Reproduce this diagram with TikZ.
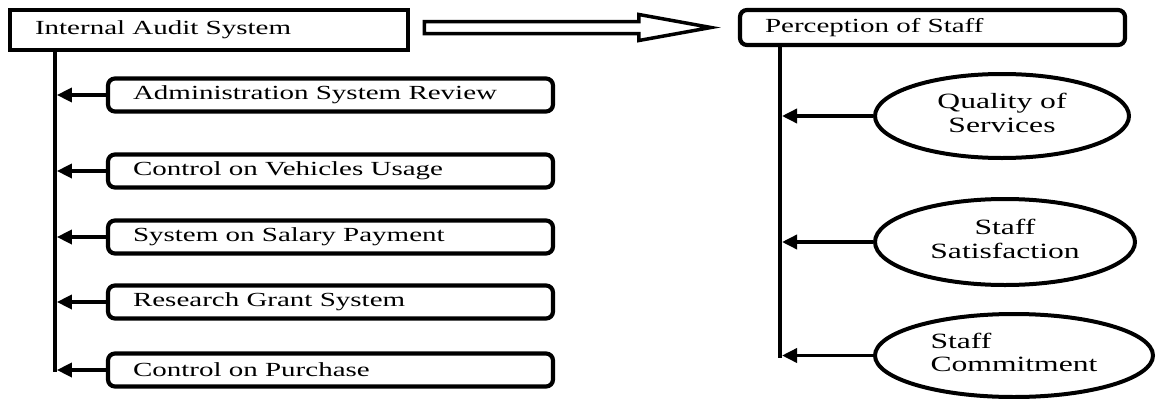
\documentclass[tikz,border=0pt]{standalone}
\usepackage{fontspec}
\setmainfont{Liberation Serif}
\newfontfamily\tnr{Liberation Serif}
\usepackage{graphicx}
\usetikzlibrary{arrows.meta,shapes.geometric,calc}
\newcommand{\sq}[1]{\scalebox{1.45}[1]{#1}}
\newcommand{\lbx}[3]{\makebox[#2][l]{\hspace*{#1}\sq{#3}}}
\begin{document}
\begin{tikzpicture}[x=1pt,y=-1pt,
  every node/.style={font=\tnr\fontsize{20}{23}\selectfont, inner sep=0pt},
  sqbox/.style={draw, line width=4.5pt, minimum height=40pt},
  rbox/.style={draw, line width=4.2pt, rounded corners=7pt, minimum height=33pt},
  oval/.style={draw, ellipse, line width=4pt, font=\tnr\fontsize{21.8}{23.5}\selectfont},
  link/.style={line width=4.2pt},
  arr/.style={line width=3.5pt, -{Triangle[length=15pt,width=14pt]}},
]
\useasboundingbox (0,0) rectangle (1157,399);

\node[sqbox, minimum width=398pt] (I) at (209,30) {\lbx{25pt}{398pt}{Internal Audit System}};
\node[rbox, minimum width=385pt, minimum height=35pt] (P) at (932.5,27.5) {\lbx{25pt}{385pt}{Perception of Staff}};

\foreach \n/\y/\t in {b1/95/Administration System Review,b2/171/Control on Vehicles Usage,b3/237/System on Salary Payment,b4/302/Research Grant System,b5/370/Control on Purchase}
  \node[rbox, minimum width=445pt] (\n) at (330.5,\y) {\lbx{25pt}{445pt}{\t}};

\coordinate (L) at ($(I.south west)+(47,0)$);
\draw[link] (L) -- ($(L |- b5.west)+(0,2.1)$);
\foreach \n in {b1,b2,b3,b4,b5}
  \draw[arr] (\n.west) -- ($(\n.west -| L)+(2.1,0)$);

\node[oval, minimum width=254pt, minimum height=84pt] (e1) at (1002,116) {\sq{\begin{tabular}{@{}c@{}}Quality of\\Services\end{tabular}}};
\node[oval, minimum width=260pt, minimum height=86pt] (e2) at (1005,242) {\sq{\begin{tabular}{@{}c@{}}Staff\\Satisfaction\end{tabular}}};
\node[oval, minimum width=278pt, minimum height=83pt] (e3) at (1014,355.5) {\sq{\begin{tabular}{@{}l@{}}Staff\\Commitment\end{tabular}}};

\coordinate (R) at ($(P.south west)+(42,0)$);
\draw[link] (R) -- ($(R |- e3.west)+(0,2.1)$);
\foreach \n in {e1,e2,e3}
  \draw[arr] (\n.west) -- ($(\n.west -| R)+(2.1,0)$);

\coordinate (h0) at ($(I.east |- P.west)+(14,0)$);
\coordinate (h1) at ($(P.west)+(-27,0)$);
\draw[line width=3.5pt, line join=miter]
  ($(h0)+(0,-6)$) -- ($(h1)+(-72,-6)$) -- ($(h1)+(-72,-13)$) -- (h1)
  -- ($(h1)+(-72,13)$) -- ($(h1)+(-72,6)$) -- ($(h0)+(0,6)$) -- cycle;
\end{tikzpicture}
\end{document}
